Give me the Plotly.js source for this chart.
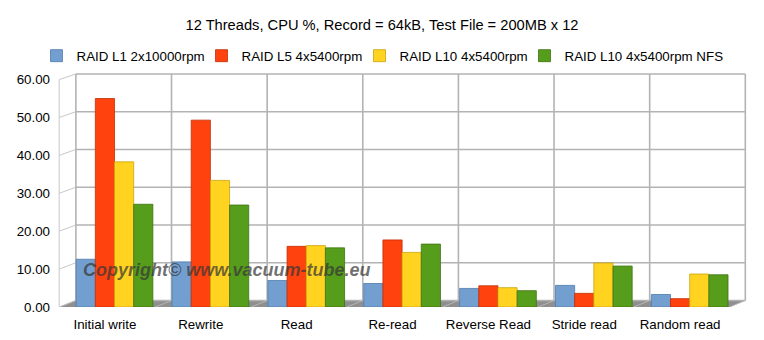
<!DOCTYPE html>
<html>
<head>
<meta charset="utf-8">
<script src="https://cdn.plot.ly/plotly-3.0.1.min.js"></script>
<style>html,body{margin:0;padding:0;background:#fff;}#chart{width:764px;height:340px;}</style>
</head>
<body>
<div id="chart"></div>
<script>
var categories = ["Initial write", "Rewrite", "Read", "Re-read", "Reverse Read", "Stride read", "Random read"];
var seriesNames = ["RAID L1 2x10000rpm", "RAID L5 4x5400rpm", "RAID L10 4x5400rpm", "RAID L10 4x5400rpm NFS"];
var raidL1 = [12.6, 11.9, 7.0, 6.2, 4.9, 5.7, 3.3];
var raidL5 = [55.0, 49.3, 16.0, 17.7, 5.6, 3.6, 2.2];
var raidL10 = [38.3, 33.4, 16.2, 14.4, 5.1, 11.6, 8.7];
var raidL10nfs = [27.1, 26.9, 15.6, 16.6, 4.3, 10.8, 8.5];
var yTicks = [0, 10, 20, 30, 40, 50, 60];

var colors = ["#729fcf", "#ff420e", "#ffd320", "#579d1c"];
var edges = ["#4f7bab", "#c22e05", "#c9a40c", "#3d7212"];
var offsets = [-0.30, -0.10, 0.10, 0.30];
var legendWidths = [120, 113, 120, 158];
var values = [raidL1, raidL5, raidL10, raidL10nfs];

var traces = values.map(function (v, i) {
  return {
    type: "bar",
    name: seriesNames[i],
    x: categories,
    y: v,
    width: 0.2,
    offset: offsets[i],
    legendwidth: legendWidths[i],
    marker: { color: colors[i], line: { color: edges[i], width: 0.8 } },
    hoverinfo: "skip"
  };
});

// pseudo-3D walls
var backL = -0.303, backStep = 0.9976, frontL = -0.477, frontR = 6.522, backR = 6.68, depth = 1.72;
function backY(v) { return v * 0.996 + depth; }
var shapes = [];
shapes.push({type: "path", xref: "x", yref: "y", layer: "below",
  path: "M " + frontL + "," + 0 + " L " + backL + "," + depth + " L " + backR + "," + depth + " L " + frontR + "," + 0 + " Z",
  fillcolor: "#8f8f8f", line: {width: 0}});
yTicks.forEach(function (v) {
  shapes.push({type: "line", xref: "x", yref: "y", layer: "below", x0: backL, x1: backR, y0: backY(v), y1: backY(v), line: {color: "#b3b3b3", width: 1.6}});
  shapes.push({type: "line", xref: "x", yref: "y", layer: "below", x0: frontL, x1: backL, y0: v, y1: backY(v), line: {color: "#c8c8c8", width: 1}});
});
for (var i = 0; i <= categories.length; i++) {
  var bx = backL + i * backStep;
  shapes.push({type: "line", xref: "x", yref: "y", layer: "below", x0: bx, x1: bx, y0: depth, y1: backY(60), line: {color: "#b3b3b3", width: 1.6}});
  shapes.push({type: "line", xref: "x", yref: "y", layer: "below", x0: bx - 0.165, x1: bx, y0: 0, y1: depth, line: {color: "#b5b5b5", width: 1}});
}
shapes.push({type: "line", xref: "x", yref: "y", layer: "below", x0: frontL, x1: frontL, y0: 0, y1: 60, line: {color: "#c8c8c8", width: 1}});

var layout = {
  width: 764, height: 340,
  margin: {l: 57, r: 12.2, t: 72.45, b: 33, pad: 0, autoexpand: false},
  paper_bgcolor: "#ffffff", plot_bgcolor: "rgba(0,0,0,0)",
  font: {family: "Liberation Sans, Arial, sans-serif", size: 13.33, color: "#000000"},
  title: {text: "12 Threads, CPU %, Record = 64kB, Test File = 200MB x 12",
    font: {family: "Liberation Sans, Arial, sans-serif", size: 14.67, color: "#000000"},
    x: 0.5, xref: "container", y: 1 - 25 / 340, yref: "container", yanchor: "middle"},
  barmode: "overlay",
  showlegend: true,
  legend: {orientation: "h", x: 0.5, xanchor: "center", xref: "container", y: 1 - 56 / 340, yref: "container", yanchor: "middle",
    font: {size: 13.33}, traceorder: "normal", itemclick: false, itemdoubleclick: false, entrywidthmode: "pixels"},
  xaxis: {type: "category", range: [-0.5, 6.75], showgrid: false, zeroline: false, showline: false, ticks: "",
    tickfont: {size: 13.33}, ticklabelstandoff: 8, fixedrange: true},
  yaxis: {range: [0, 62], tickvals: yTicks, tickformat: ".2f", showgrid: false, zeroline: false, showline: false, ticks: "",
    tickfont: {size: 13.33}, ticklabelstandoff: 6, fixedrange: true},
  shapes: shapes,
  annotations: [{
    text: "<b><i>Copyright© www.vacuum-tube.eu</i></b>",
    xref: "paper", yref: "paper", x: 0.034, y: 0.158, xanchor: "left", yanchor: "middle", showarrow: false,
    font: {family: "Liberation Sans, Arial, sans-serif", size: 18, color: "rgba(55,55,55,0.72)"}
  }]
};

Plotly.newPlot("chart", traces, layout, {displayModeBar: false, staticPlot: true});
</script>
</body>
</html>
